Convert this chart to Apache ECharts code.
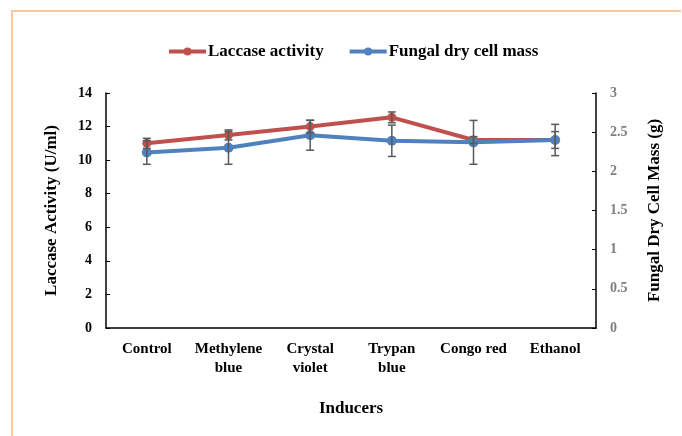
<!DOCTYPE html>
<html>
<head>
<meta charset="utf-8">
<script src="https://cdn.jsdelivr.net/npm/echarts@6/dist/echarts.min.js"></script>
<style>
  html, body { margin: 0; padding: 0; background: #ffffff; }
  #chart { width: 682px; height: 436px; }
</style>
</head>
<body>
<div id="chart"></div>
<script>
// Inducer categories
const categories = ['Control', 'Methylene\nblue', 'Crystal\nviolet', 'Trypan\nblue', 'Congo red', 'Ethanol'];

// Laccase activity (U/ml) and its standard deviation
const laccase = [11.0, 11.5, 12.0, 12.55, 11.2, 11.2];
const laccaseErr = [0.3, 0.3, 0.38, 0.32, 0.2, 0.5];

// Fungal dry cell mass (g) and its standard deviation
const cellMass = [2.24, 2.30, 2.46, 2.39, 2.37, 2.40];
const cellMassErr = [0.15, 0.21, 0.19, 0.2, 0.28, 0.2];

const leftTicks = { min: 0, max: 14, interval: 2 };
const rightTicks = { min: 0, max: 3, interval: 0.5 };

const RED = '#C0504D';
const BLUE = '#4F81BD';
const ERR = '#595959';
const FONT = '"Liberation Serif", "Times New Roman", serif';

function errorSeries(name, values, errs, axisIndex) {
  return {
    name: name,
    type: 'custom',
    yAxisIndex: axisIndex,
    z: 5,
    silent: true,
    data: values.map((v, i) => [i, v - errs[i], v + errs[i]]),
    renderItem: function (params, api) {
      const x = api.value(0);
      const lo = api.coord([x, api.value(1)]);
      const hi = api.coord([x, api.value(2)]);
      const cap = 4;
      const style = { stroke: ERR, lineWidth: 1.5, fill: null };
      return {
        type: 'group',
        children: [
          { type: 'line', shape: { x1: lo[0], y1: lo[1], x2: hi[0], y2: hi[1] }, style: style },
          { type: 'line', shape: { x1: lo[0] - cap, y1: lo[1], x2: lo[0] + cap, y2: lo[1] }, style: style },
          { type: 'line', shape: { x1: hi[0] - cap, y1: hi[1], x2: hi[0] + cap, y2: hi[1] }, style: style }
        ]
      };
    }
  };
}

const chart = echarts.init(document.getElementById('chart'), null, { renderer: 'canvas' });

chart.setOption({
  animation: false,
  backgroundColor: '#ffffff',
  graphic: [{
    type: 'polyline',
    shape: { points: [[12, 440], [12, 11], [681, 11]] },
    style: { stroke: '#FCC89A', lineWidth: 2, fill: null }
  }],
  legend: {
    top: 38,
    left: 162,
    itemWidth: 37,
    itemHeight: 10,
    itemGap: 24,
    lineStyle: { width: 4 },
    data: ['Laccase activity', 'Fungal dry cell mass'],
    textStyle: { fontFamily: FONT, fontWeight: 'bold', fontSize: 17, color: '#000000', padding: [0, 0, 0, -3] }
  },
  grid: { left: 106, right: 86, top: 93, bottom: 108, containLabel: false },
  xAxis: {
    type: 'category',
    data: categories,
    boundaryGap: true,
    name: 'Inducers',
    nameLocation: 'middle',
    nameGap: 72,
    nameTextStyle: { fontFamily: FONT, fontWeight: 'bold', fontSize: 17, color: '#000000' },
    axisLine: { lineStyle: { color: '#000000', width: 1.5 } },
    axisTick: { inside: true, length: 4, lineStyle: { color: '#000000' } },
    axisLabel: {
      margin: 12,
      interval: 0,
      fontFamily: FONT, fontWeight: 'bold', fontSize: 15, color: '#000000', lineHeight: 19
    }
  },
  yAxis: [{
    type: 'value',
    min: leftTicks.min, max: leftTicks.max, interval: leftTicks.interval,
    name: 'Laccase Activity (U/ml)',
    nameLocation: 'middle',
    nameGap: 46,
    nameTextStyle: { fontFamily: FONT, fontWeight: 'bold', fontSize: 17, color: '#000000' },
    splitLine: { show: false },
    axisLine: { show: true, lineStyle: { color: '#000000', width: 1.5 } },
    axisTick: { show: true, inside: true, length: 4, lineStyle: { color: '#000000' } },
    axisLabel: { margin: 14, fontFamily: FONT, fontWeight: 'bold', fontSize: 14, color: '#000000' }
  }, {
    type: 'value',
    position: 'right',
    min: rightTicks.min, max: rightTicks.max, interval: rightTicks.interval,
    name: 'Fungal Dry Cell Mass (g)',
    nameLocation: 'middle',
    nameRotate: 90,
    nameGap: 50,
    nameTextStyle: { fontFamily: FONT, fontWeight: 'bold', fontSize: 17, color: '#000000' },
    splitLine: { show: false },
    axisLine: { show: true, lineStyle: { color: '#000000', width: 1.5 } },
    axisTick: { show: true, inside: true, length: 4, lineStyle: { color: '#000000' } },
    axisLabel: { margin: 14, fontFamily: FONT, fontWeight: 'bold', fontSize: 14, color: '#7F7F7F' }
  }],
  series: [
    {
      name: 'Laccase activity',
      type: 'line',
      yAxisIndex: 0,
      data: laccase,
      color: RED,
      symbol: 'circle',
      symbolSize: 9,
      lineStyle: { width: 4, color: RED },
      itemStyle: { color: RED },
      z: 3
    },
    {
      name: 'Fungal dry cell mass',
      type: 'line',
      yAxisIndex: 1,
      data: cellMass,
      color: BLUE,
      symbol: 'circle',
      symbolSize: 10,
      lineStyle: { width: 4, color: BLUE },
      itemStyle: { color: BLUE },
      z: 4
    },
    errorSeries('laccaseErr', laccase, laccaseErr, 0),
    errorSeries('cellMassErr', cellMass, cellMassErr, 1)
  ]
});
</script>
</body>
</html>
